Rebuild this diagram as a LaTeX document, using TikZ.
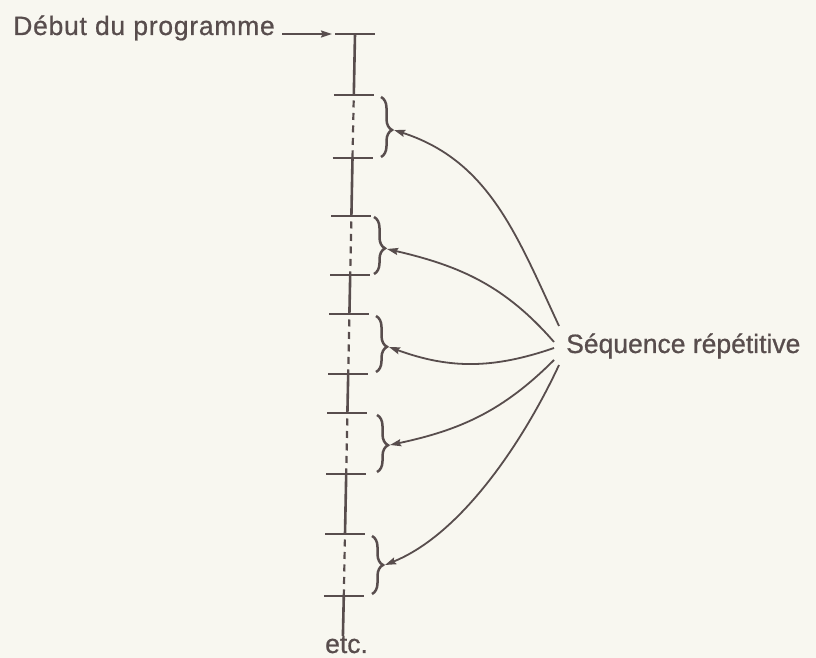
\documentclass[tikz,border=0pt]{standalone}
\usepackage{fontspec}
\setmainfont{Liberation Sans}
\newfontfamily\lblfont[FakeBold=0.7]{Liberation Sans}
\usetikzlibrary{arrows.meta,decorations.pathreplacing}
\definecolor{ink}{HTML}{584D4D}
\definecolor{paper}{HTML}{F8F7F0}
\begin{document}
\begin{tikzpicture}[x=1pt,y=1pt,
  lbl/.style={inner sep=0pt, text=ink, font=\lblfont\fontsize{26.5}{30}\selectfont},
  stem/.style={draw=ink, line width=2.6pt},
  dstem/.style={draw=ink, line width=2.2pt, dash pattern=on 7pt off 5.5pt, dash phase=7pt},
  tickline/.style={draw=ink, line width=2.5pt},
  bracestyle/.style={draw=ink, line width=2.5pt, decorate, decoration={brace, amplitude=11pt, aspect=#1}},
  bracestyle/.default=0.55,
  arr/.style={draw=ink, line width=1.8pt, -{Stealth[length=11pt,width=7pt,inset=1.5pt]}}]
\fill[paper] (0,0) rectangle (816,658);
\useasboundingbox (0,0) rectangle (816,658);
% stem points
\coordinate (t0) at (355,624);
\coordinate (t1) at (353.8,563);
\coordinate (t2) at (352.5,500);
\coordinate (t3) at (351.4,442);
\coordinate (t4) at (350.2,383);
\coordinate (t5) at (349.4,344);
\coordinate (t6) at (348.2,284);
\coordinate (t7) at (347.4,245);
\coordinate (t8) at (346.2,184);
\coordinate (t9) at (345,124);
\coordinate (t10) at (343.8,62);
\coordinate (tb) at (342.9,22);
\coordinate (t0l) at (335,624);
% ticks
\foreach \i in {0,...,10}
  \draw[tickline] ([xshift=-20pt]t\i) -- ([xshift=20pt]t\i);
% solid stem parts
\draw[stem] (t0) -- (t1);
\draw[stem] (t2) -- (t3);
\draw[stem] (t4) -- (t5);
\draw[stem] (t6) -- (t7);
\draw[stem] (t8) -- (t9);
\draw[stem] (t10) -- (tb);
% dashed stem parts
\draw[dstem] (t1) -- (t2);
\draw[dstem] (t3) -- (t4);
\draw[dstem] (t5) -- (t6);
\draw[dstem] (t7) -- (t8);
\draw[dstem] (t9) -- (t10);
% braces
\draw[bracestyle] (381,561) -- (381,501);
\draw[bracestyle] (374,441) -- (374,384);
\draw[bracestyle] (376,342) -- (376,286);
\draw[bracestyle=0.53] (377,243) -- (377,186);
\draw[bracestyle=0.5] (372,122) -- (372,64);
\coordinate (b1) at (394,528);
\coordinate (b2) at (387,409);
\coordinate (b3) at (389,311);
\coordinate (b4) at (390,213);
\coordinate (b5) at (385,93);
% labels
\node[lbl, anchor=base east] (debut) at (275,623) {\addfontfeatures{LetterSpace=2.8}Début du programme};
\node[lbl, anchor=base west] (seq) at (566,305) {Séquence répétitive};
\node[lbl, anchor=base west] (etc) at (325,5) {etc.};
% arrows
\draw[arr] ([shift={(7pt,1pt)}]debut.base east) -- ([xshift=-3pt]t0l);
\draw[arr] ([shift={(-7pt,27pt)}]seq.base west) to[out=115, in=-18] (b1);
\draw[arr] ([shift={(-12pt,11pt)}]seq.base west) to[out=131, in=-13] (b2);
\draw[arr] ([shift={(-12pt,5pt)}]seq.base west) to[out=199, in=-20] (b3);
\draw[arr] ([shift={(-12pt,-7pt)}]seq.base west) to[out=225, in=12] (b4);
\draw[arr] ([shift={(-7pt,-12pt)}]seq.base west) to[out=245, in=22, looseness=0.8] (b5);
\end{tikzpicture}
\end{document}
